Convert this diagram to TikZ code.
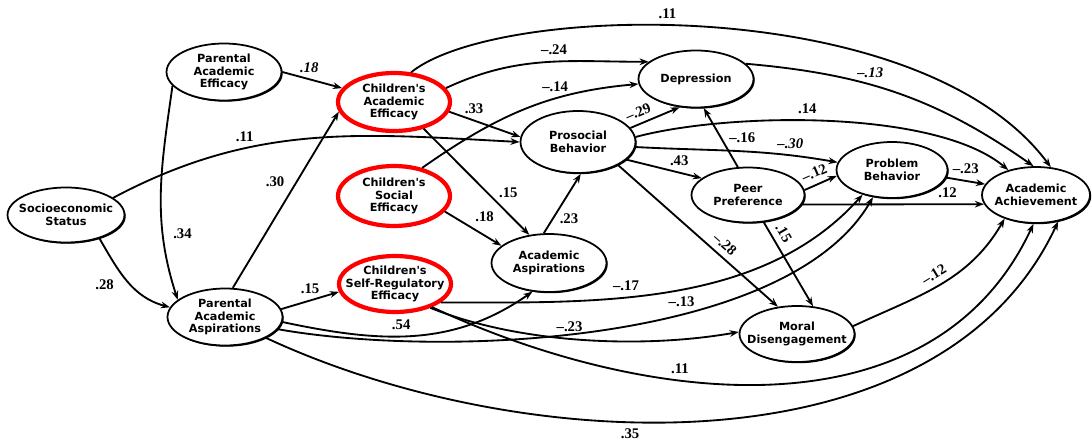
\documentclass[tikz,border=0pt]{standalone}
\usepackage{fontspec}
\setmainfont{Liberation Serif}
\newfontfamily\boxfont{DejaVu Sans}
\usetikzlibrary{arrows.meta,shapes.geometric,shadows}

\begin{document}
\begin{tikzpicture}[x=0.02cm, y=0.02cm,
    every node/.style={font=\fontsize{8.4}{10}\selectfont\bfseries},
    oval/.style={ellipse, draw, fill=white, align=center, inner xsep=-0.24cm, inner ysep=0pt,
      minimum width=2.3cm, minimum height=1.14cm, font=\boxfont\fontsize{6.4}{7.1}\selectfont\bfseries},
    latent/.style={oval, line width=1pt, drop shadow={shadow xshift=0.7pt, shadow yshift=-0.7pt, opacity=1, fill=black}},
    eff/.style={oval, draw=red, line width=2.4pt, minimum width=2.24cm},
    link/.style={-{Stealth[length=5.2pt,width=3.8pt]}, line width=1.05pt}]
    \useasboundingbox (0,0) rectangle (1092,-442);
    \node[latent, minimum width=2.34cm, minimum height=1.1cm] (ses) at (66,-215) {Socioeconomic\\Status};
    \node[latent] (pae) at (224,-72) {Parental\\Academic\\Efficacy};
    \node[latent] (paa) at (225,-317) {Parental\\Academic\\Aspirations};
    \node[eff, minimum height=1.16cm] (cae) at (394,-102) {Children's\\Academic\\Efficacy};
    \node[eff, minimum height=1.2cm] (cse) at (394,-196) {Children's\\Social\\Efficacy};
    \node[eff, minimum height=1.12cm] (csre) at (395,-284) {Children's\\Self-Regulatory\\Efficacy};
    \node[latent, minimum height=1.16cm] (asp) at (549,-263) {Academic\\Aspirations};
    \node[latent, minimum height=1.24cm] (pro) at (578,-142) {Prosocial\\Behavior};
    \node[latent] (dep) at (696,-79) {Depression};
    \node[latent, minimum width=2.26cm, minimum height=1.1cm] (peer) at (748,-195) {Peer\\Preference};
    \node[latent, minimum width=2.22cm, minimum height=1.12cm] (prob) at (892,-170) {Problem\\Behavior};
    \node[latent, minimum width=2.16cm, minimum height=1.12cm] (ach) at (1036,-195) {Academic\\Achievement};
    \node[latent, minimum height=1.12cm] (mor) at (797,-334) {Moral\\Disengagement};

    \draw[link] (pae.east) -- node[above, pos=.45]{\itshape .18} (cae.165);
    \draw[link] (pae.195) to[out=262, in=108] node[pos=.7, right=2pt]{.34} (paa.160);
    \draw[link] (ses.325) to[out=300, in=165] node[pos=.55, left=6pt]{.28} (paa.170);
    \draw[link] (ses.20) to[out=28, in=177] node[pos=.33, above]{.11} (pro.west);
    \draw[link] (paa.75) -- node[pos=.6, left=3pt]{.30} (cae.190);
    \draw[link] (paa.8) -- node[above]{.15} (csre.188);
    \draw[link] (paa.355) to[out=-12, in=215] node[pos=.45, above]{.54} (asp.240);
    \draw[link] (paa.347) to[out=-10, in=240, looseness=.71] node[pos=.61, above]{--.13} (prob.235);
    \draw[link] (paa.333) to[out=-25, in=245, looseness=.9] node[pos=.41, below]{.35} (ach.310);
    \draw[link] (csre.338) to[out=0, in=228, looseness=.9] node[pos=.4, above]{--.17} (prob.220);
    \draw[link] (csre.326) to[out=-22, in=190, looseness=.8] node[pos=.46, above]{--.23} (mor.178);
    \draw[link] (csre.328) to[out=-25, in=245] node[pos=.36, above]{.11} (ach.265);
    \draw[link] (cae.60) .. controls +(87,70) and +(-130,175) .. node[pos=.44, above]{.11} (ach.62);
    \draw[link] (cae.15) to[out=25, in=180] node[pos=.55, above]{--.24} (dep.160);
    \draw[link] (cse.45) to[out=35, in=185] node[pos=.65, above]{--.14} (dep.185);
    \draw[link] (cae.350) -- node[pos=.35, above]{.33} (pro.175);
    \draw[link] (cae.318) -- node[pos=.6, right=3pt]{.15} (asp.125);
    \draw[link] (cse.343) -- node[pos=.45, above right=-1pt]{.18} (asp.160);
    \draw[link] (asp.100) -- node[pos=.25, right]{.23} (pro.275);
    \draw[link] (pro.15) -- node[pos=.25, above, sloped]{--.29} (dep.240);
    \draw[link] (pro.5) to[out=15, in=140, looseness=.65] node[pos=.45, above]{.14} (ach.138);
    \draw[link] (dep.17) to[out=-5, in=145] node[pos=.4, above]{\itshape --.13} (ach.95);
    \draw[link] (pro.355) to[out=-3, in=170] node[pos=.78, above]{\itshape --.30} (prob.172);
    \draw[link] (pro.340) -- node[pos=.7, above]{.43} (peer.160);
    \draw[link] (pro.330) -- node[pos=.62, above, sloped]{--.28} (mor.125);
    \draw[link] (peer.110) -- node[right=1pt]{--.16} (dep.285);
    \draw[link] (peer.5) -- node[pos=.45, above, sloped]{--.12} (prob.186);
    \draw[link] (peer.350) -- node[pos=.8, above]{.12} (ach.190);
    \draw[link] (peer.300) -- node[pos=.2, above, sloped]{.15} (mor.60);
    \draw[link] (prob.352) -- node[above]{--.23} (ach.168);
    \draw[link] (mor.8) to[out=25, in=240] node[pos=.5, above, sloped]{--.12} (ach.217);
\end{tikzpicture}
\end{document}
